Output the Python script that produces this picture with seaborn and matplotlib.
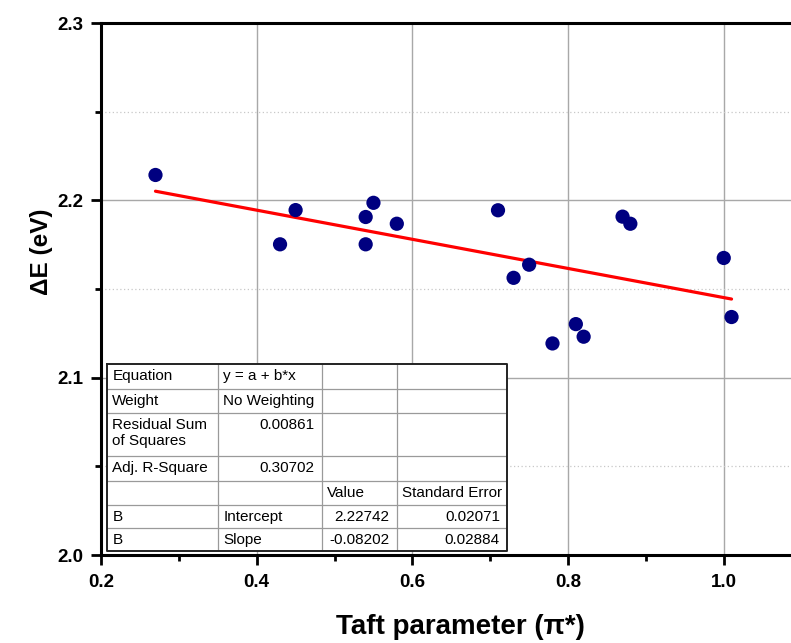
import numpy as np
import pandas as pd
import matplotlib
matplotlib.use("Agg")
import matplotlib.pyplot as plt
from matplotlib.lines import Line2D
from matplotlib.ticker import MultipleLocator, FixedLocator
import seaborn as sns

# ---------------- data ----------------
taft_pi = [0.27, 0.43, 0.45, 0.54, 0.54, 0.55, 0.58, 0.71, 0.73, 0.75,
           0.78, 0.81, 0.82, 0.87, 0.88, 1.00, 1.01]
delta_e = [2.2143, 2.1752, 2.1945, 2.1906, 2.1752, 2.1986, 2.1868, 2.1944, 2.1563, 2.1637,
           2.1193, 2.1302, 2.1231, 2.1908, 2.1868, 2.1675, 2.1342]

x_ticks = [0.2, 0.4, 0.6, 0.8, 1.0]
x_tick_labels = ["0.2", "0.4", "0.6", "0.8", "1.0"]
y_ticks = [2.0, 2.1, 2.2, 2.3]
y_tick_labels = ["2.0", "2.1", "2.2", "2.3"]

table_rows = [
    ["Equation", "y = a + b*x", "", ""],
    ["Weight", "No Weighting", "", ""],
    ["Residual Sum\nof Squares", "0.00861", "", ""],
    ["Adj. R-Square", "0.30702", "", ""],
    ["", "", "Value", "Standard Error"],
    ["B", "Intercept", "2.22742", "0.02071"],
    ["B", "Slope", "-0.08202", "0.02884"],
]
# alignment of each cell: l = left, r = right
table_align = [
    ["l", "l", "l", "l"],
    ["l", "l", "l", "l"],
    ["l", "r", "l", "l"],
    ["l", "r", "l", "l"],
    ["l", "l", "l", "l"],
    ["l", "l", "r", "r"],
    ["l", "l", "r", "r"],
]

df = pd.DataFrame({"pi": taft_pi, "dE": delta_e})

# ---------------- style ----------------
sns.set_style("ticks")
plt.rcParams["font.family"] = ["Liberation Sans", "DejaVu Sans"]
plt.rcParams["text.color"] = "black"
plt.rcParams["axes.labelcolor"] = "black"
plt.rcParams["xtick.color"] = "black"
plt.rcParams["ytick.color"] = "black"

W, H = 791, 643
fig = plt.figure(figsize=(W / 100, H / 100), dpi=100)

# axes in pixel geometry
ax_left, ax_right, ax_top, ax_bottom = 101, 801.6, 23, 555
ax = fig.add_axes([ax_left / W, (H - ax_bottom) / H,
                   (ax_right - ax_left) / W, (ax_bottom - ax_top) / H])

sns.regplot(data=df, x="pi", y="dE", ax=ax, ci=None, truncate=True,
            scatter_kws=dict(s=105, color="#000080", edgecolor="none", alpha=1, zorder=4),
            line_kws=dict(color="#ff0000", lw=2.3, zorder=3))

ax.set_xlim(0.2, 1.1)
ax.set_ylim(2.0, 2.3)

ax.xaxis.set_major_locator(FixedLocator(x_ticks))
ax.set_xticklabels(x_tick_labels)
ax.xaxis.set_minor_locator(MultipleLocator(0.1))
ax.yaxis.set_major_locator(FixedLocator(y_ticks))
ax.set_yticklabels(y_tick_labels)
ax.yaxis.set_minor_locator(MultipleLocator(0.05))

for lab in ax.get_xticklabels() + ax.get_yticklabels():
    lab.set_fontweight("bold")
    lab.set_fontsize(13.5)
    lab.set_color("black")

ax.tick_params(axis="both", which="major", direction="out", length=7, width=2,
               color="black", labelcolor="black")
ax.tick_params(axis="x", which="major", pad=7)
ax.tick_params(axis="y", which="major", pad=6)
ax.tick_params(axis="both", which="minor", direction="out", length=4.5, width=2,
               color="black")

for side in ["left", "bottom", "top"]:
    ax.spines[side].set_linewidth(2.2)
    ax.spines[side].set_color("black")
ax.spines["right"].set_visible(False)

# grids
ax.set_axisbelow(True)
ax.grid(which="major", color="#a8a8a8", lw=1.0, ls="-")
ax.yaxis.grid(which="minor", color="#c8c8c8", lw=0.9, ls=(0, (1, 2)))
ax.xaxis.grid(which="minor", visible=False)

ax.set_xlabel("Taft parameter (π*)", fontsize=20, fontweight="bold", color="black")
ax.set_ylabel("ΔE (eV)", fontsize=17.5, fontweight="bold", color="black")
ax.xaxis.set_label_coords((460 - ax_left) / (ax_right - ax_left),
                          -(627 - ax_bottom) / (ax_bottom - ax_top))
ax.xaxis.label.set_verticalalignment("center")
ax.yaxis.set_label_coords(-(101 - 42) / (ax_right - ax_left),
                          (ax_bottom - 252) / (ax_bottom - ax_top))
ax.yaxis.label.set_verticalalignment("center")

# ---------------- fit-result table ----------------
t_left, t_right, t_top, t_bottom = 107.3, 507, 364, 550.7
col_edges = [107.3, 218.3, 321.7, 396.7, 507]
row_edges = [364, 389.3, 413.3, 456, 480.7, 505, 528.3, 550.7]

tax = fig.add_axes([t_left / W, (H - t_bottom) / H,
                    (t_right - t_left) / W, (t_bottom - t_top) / H], zorder=5)
tax.set_xlim(t_left, t_right)
tax.set_ylim(t_bottom, t_top)
tax.set_facecolor("white")
for s in tax.spines.values():
    s.set_visible(False)
tax.set_xticks([])
tax.set_yticks([])

for yv in row_edges[1:-1]:
    tax.add_line(Line2D([t_left, t_right], [yv, yv], color="#9a9a9a", lw=0.9))
for xv in col_edges[1:-1]:
    tax.add_line(Line2D([xv, xv], [t_top, t_bottom], color="#9a9a9a", lw=0.9))
tax.add_line(Line2D([t_left, t_right, t_right, t_left, t_left],
                    [t_top, t_top, t_bottom, t_bottom, t_top],
                    color="#222222", lw=1.4, clip_on=False))

for r, row in enumerate(table_rows):
    y0 = row_edges[r]
    for c, txt in enumerate(row):
        if not txt:
            continue
        if table_align[r][c] == "l":
            xx, ha = col_edges[c] + 5, "left"
        else:
            xx, ha = col_edges[c + 1] - 7, "right"
        tax.text(xx, y0 + 5, txt, ha=ha, va="top", fontsize=11,
                 linespacing=1.15, color="black")

fig.savefig("out.png", dpi=100)
